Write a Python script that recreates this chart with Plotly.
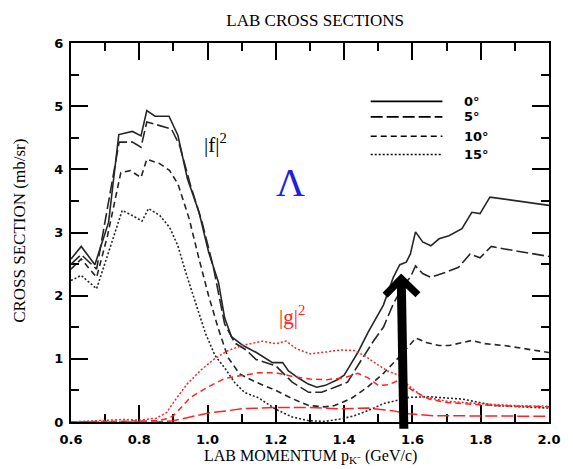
import plotly.graph_objects as go

# |f|^2 black curves (angle: x, y)
f0_x = [0.60,0.63,0.67,0.71,0.74,0.78,0.805,0.822,0.846,0.887,0.913,0.941,0.975,1.003,1.032,1.05,1.07,1.104,1.143,1.19,1.22,1.237,1.265,1.295,1.32,1.345,1.38,1.40,1.42,1.44,1.47,1.515,1.544,1.563,1.582,1.594,1.609,1.63,1.654,1.678,1.707,1.745,1.774,1.798,1.827,1.87,2.0]
f0_y = [2.58,2.78,2.49,3.16,4.55,4.60,4.53,4.93,4.84,4.84,4.54,3.85,3.32,2.69,2.21,1.65,1.35,1.21,1.10,0.94,0.94,0.81,0.70,0.60,0.55,0.58,0.67,0.74,0.92,1.10,1.42,1.85,2.29,2.49,2.53,2.66,3.01,2.85,2.79,2.90,2.95,3.06,3.32,3.30,3.56,3.53,3.43]

f5_x = [0.60,0.63,0.675,0.741,0.78,0.805,0.822,0.86,0.894,0.918,0.95,0.984,1.017,1.05,1.08,1.113,1.142,1.2,1.248,1.296,1.334,1.373,1.41,1.449,1.487,1.515,1.544,1.577,1.594,1.609,1.63,1.654,1.687,1.735,1.769,1.798,1.831,1.87,2.0]
f5_y = [2.50,2.65,2.42,4.43,4.43,4.35,4.75,4.69,4.64,4.38,3.75,3.16,2.45,1.55,1.25,1.14,0.99,0.89,0.63,0.47,0.47,0.55,0.63,0.97,1.29,1.50,1.87,2.19,2.29,2.47,2.35,2.29,2.35,2.45,2.66,2.60,2.78,2.74,2.62]

f10_x = [0.60,0.63,0.675,0.707,0.746,0.774,0.805,0.822,0.86,0.889,0.913,0.946,0.975,1.003,1.032,1.06,1.094,1.142,1.2,1.248,1.296,1.344,1.372,1.42,1.468,1.515,1.563,1.61,1.64,1.678,1.707,1.773,1.812,1.87,2.0]
f10_y = [2.42,2.58,2.29,2.95,3.95,3.98,3.87,4.16,4.09,3.98,3.77,3.22,2.58,2.00,1.47,1.02,0.76,0.63,0.50,0.37,0.26,0.24,0.26,0.37,0.55,0.77,1.04,1.33,1.26,1.21,1.21,1.29,1.24,1.21,1.10]

f15_x = [0.60,0.63,0.675,0.712,0.75,0.779,0.808,0.827,0.86,0.889,0.913,0.936,0.965,0.994,1.022,1.051,1.08,1.108,1.15,1.2,1.248,1.296,1.344,1.392,1.43,1.47,1.515,1.55,1.59,1.65,1.75,1.84,1.92,2.0]
f15_y = [2.24,2.32,2.11,2.74,3.35,3.27,3.18,3.38,3.27,3.08,2.79,2.37,1.90,1.40,1.05,0.85,0.62,0.47,0.38,0.20,0.08,0.02,0.01,0.05,0.10,0.18,0.29,0.34,0.39,0.40,0.36,0.26,0.24,0.22]

# |g|^2 red curves
g5_x = [0.60,0.85,0.90,0.95,1.0,1.06,1.10,1.2,1.3,1.38,1.47,1.54,1.59,1.66,2.0]
g5_y = [0.0,0.0,0.02,0.08,0.14,0.18,0.21,0.23,0.23,0.21,0.22,0.18,0.13,0.10,0.09]

g10_x = [0.60,0.75,0.85,0.88,0.90,0.95,1.0,1.05,1.10,1.15,1.20,1.25,1.30,1.35,1.40,1.44,1.47,1.50,1.53,1.56,1.60,1.65,1.70,1.80,1.90,2.0]
g10_y = [0.0,0.01,0.02,0.05,0.10,0.39,0.55,0.69,0.74,0.78,0.78,0.72,0.68,0.67,0.70,0.77,0.70,0.58,0.59,0.66,0.50,0.36,0.31,0.27,0.25,0.24]

g15_x = [0.60,0.65,0.70,0.75,0.80,0.85,0.88,0.90,0.94,0.98,1.02,1.06,1.10,1.16,1.20,1.23,1.26,1.30,1.35,1.39,1.43,1.46,1.50,1.53,1.56,1.59,1.63,1.70,1.80,1.90,2.0]
g15_y = [0.0,0.01,0.02,0.04,0.03,0.06,0.15,0.31,0.60,0.82,1.00,1.13,1.21,1.28,1.24,1.28,1.16,1.08,1.11,1.14,1.13,1.05,0.90,0.80,0.74,0.57,0.40,0.33,0.29,0.26,0.25]

legend_labels = ["0°", "5°", "10°", "15°"]
x_ticks = [0.6, 0.8, 1.0, 1.2, 1.4, 1.6, 1.8, 2.0]
y_ticks = [0, 1, 2, 3, 4, 5, 6]

GRAY = "#262626"
RED = "#ff2222"
dashes = ["solid", "12px,4px", "6px,4px", "2px,2px"]

fig = go.Figure()
for xs, ys, d in [(f0_x, f0_y, dashes[0]), (f5_x, f5_y, dashes[1]),
                  (f10_x, f10_y, dashes[2]), (f15_x, f15_y, dashes[3])]:
    fig.add_trace(go.Scatter(x=xs, y=ys, mode="lines", cliponaxis=False,
                             line=dict(color=GRAY, width=1.6, dash=d), showlegend=False))
for xs, ys, d in [(g5_x, g5_y, dashes[1]), (g10_x, g10_y, dashes[2]), (g15_x, g15_y, dashes[3])]:
    fig.add_trace(go.Scatter(x=xs, y=ys, mode="lines", cliponaxis=False,
                             line=dict(color=RED, width=1.5, dash=d), showlegend=False))

axis_common = dict(showline=True, linecolor="black", linewidth=2, mirror="allticks",
                   ticks="inside", tickcolor="black", tickwidth=2, ticklen=17,
                   showgrid=False, zeroline=False, layer="below traces",
                   tickfont=dict(family="DejaVu Sans", size=13, color="black", weight="bold"))

fig.update_xaxes(range=[0.6, 2.0], tickvals=x_ticks, ticktext=[f"{v:.1f}" for v in x_ticks],
                 minor=dict(ticks="inside", dtick=0.1, ticklen=8, tickwidth=2, tickcolor="black"),
                 ticklabelstandoff=4, **axis_common)
fig.update_yaxes(range=[0, 6], tickvals=y_ticks, ticktext=[str(v) for v in y_ticks],
                 minor=dict(ticks="inside", dtick=0.5, ticklen=8, tickwidth=2, tickcolor="black"),
                 ticklabelstandoff=3, **axis_common)

# legend drawn manually
leg_y = [0.846, 0.805, 0.754, 0.706]
shapes = []
annotations = []
for lab, ly, d in zip(legend_labels, leg_y, dashes):
    shapes.append(dict(type="line", xref="paper", yref="paper", x0=0.627, x1=0.777, y0=ly, y1=ly,
                       line=dict(color="black", width=1.6, dash=d)))
    annotations.append(dict(xref="paper", yref="paper", x=0.818, y=ly, text=lab, showarrow=False,
                            xanchor="left", yanchor="middle",
                            font=dict(family="DejaVu Sans", size=13, color="black", weight="bold")))

serif = "Liberation Serif"
annotations += [
    dict(xref="paper", yref="paper", x=0.5, y=-0.092, text="LAB MOMENTUM p<sub>K⁻</sub> (GeV/c)",
         showarrow=False, xanchor="center", yanchor="middle", font=dict(family=serif, size=16, color="black")),
    dict(xref="paper", yref="paper", x=-0.107, y=0.504, text="CROSS SECTION (mb/sr)", textangle=-90,
         showarrow=False, xanchor="center", yanchor="middle", font=dict(family=serif, size=17, color="black")),
    dict(xref="paper", yref="paper", x=0.302, y=0.736, text="|f|<sup>2</sup>", showarrow=False,
         xanchor="center", yanchor="middle", font=dict(family=serif, size=21, color="black")),
    dict(xref="paper", yref="paper", x=0.459, y=0.631, text="Λ", showarrow=False,
         xanchor="center", yanchor="middle", font=dict(family=serif, size=40, color="#2020e0")),
    dict(xref="paper", yref="paper", x=0.463, y=0.28, text="|g|<sup>2</sup>", showarrow=False,
         xanchor="center", yanchor="middle", font=dict(family=serif, size=21, color=RED)),
    dict(x=1.567, y=2.35, xref="x", yref="y", ax=1.575, ay=-0.13, axref="x", ayref="y", text="",
         showarrow=True, arrowhead=4, arrowsize=0.7, arrowwidth=9, arrowcolor="black"),
]

fig.update_layout(
    width=573, height=469,
    margin=dict(l=71, r=14, t=43, b=47),
    paper_bgcolor="white", plot_bgcolor="white",
    title=dict(text="LAB CROSS SECTIONS", x=0.55, xanchor="center", y=0.957, yanchor="middle",
               font=dict(family=serif, size=17, color="black")),
    shapes=shapes, annotations=annotations, showlegend=False,
)

fig.write_html("out.html")
